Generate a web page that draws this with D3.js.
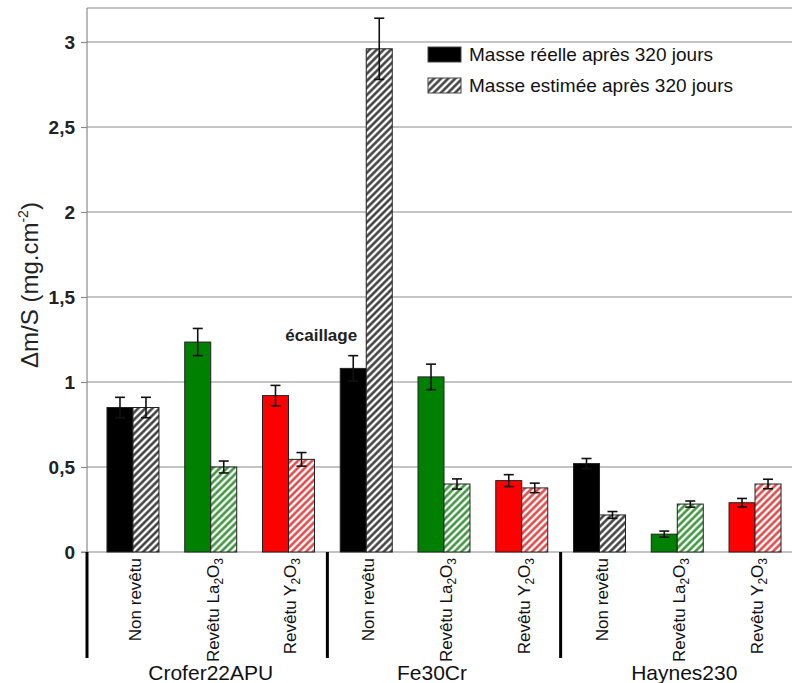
<!DOCTYPE html>
<html>
<head>
<meta charset="utf-8">
<script src="https://cdn.jsdelivr.net/npm/d3@7"></script>
<style>
  html, body { margin: 0; padding: 0; background: #fff; }
  svg { display: block; font-family: "Liberation Sans", Arial, Helvetica, sans-serif; }
</style>
</head>
<body>
<svg id="chart" width="792" height="683"></svg>
<script>
// ---------- data ----------
const alloys = ["Crofer22APU", "Fe30Cr", "Haynes230"];
const coatings = ["Non revêtu", "Revêtu La2O3", "Revêtu Y2O3"];
const seriesNames = ["Masse réelle après 320 jours", "Masse estimée après 320 jours"];
// order: alloy-major, coating-minor
const massReelle  = [0.85, 1.235, 0.92, 1.08, 1.03, 0.42, 0.52, 0.105, 0.29];
const errReelle   = [0.06, 0.08, 0.06, 0.075, 0.075, 0.035, 0.03, 0.018, 0.025];
const massEstimee = [0.85, 0.50, 0.545, 2.96, 0.40, 0.377, 0.218, 0.282, 0.40];
const errEstimee  = [0.06, 0.035, 0.04, 0.18, 0.03, 0.028, 0.02, 0.018, 0.028];
const yTicks = [0, 0.5, 1, 1.5, 2, 2.5, 3];
const yLabel = "Δm/S (mg.cm";
const annotation = "écaillage";

// ---------- styles / layout ----------
const solidColors = ["#000000", "#008000", "#ff0000"];
const hatchColors = ["#333333", "#2f8f2f", "#e23a3a"];
const groupLabelDx = [0, -12, 7];

const svg = d3.select("#chart");
const W = 792;
const axisX = 87, topY = 8, baseY = 552;

const cats = [];
alloys.forEach((a, i) => coatings.forEach((c, j) => cats.push({alloy: a, coating: c, ai: i, ci: j, key: a + "|" + c})));

const x = d3.scaleBand().domain(cats.map(d => d.key)).range([94.1, 793.9]).padding(0);
const bw = x.bandwidth();
const x1 = d3.scaleBand().domain(["reel", "estime"]).range([bw / 2 - 26, bw / 2 + 26]).padding(0);
const y = d3.scaleLinear().domain([0, 3.2]).range([baseY, topY]);

// patterns
const defs = svg.append("defs");
hatchColors.forEach((c, i) => {
  const p = defs.append("pattern").attr("id", "hatch" + i)
    .attr("patternUnits", "userSpaceOnUse").attr("width", 5).attr("height", 5)
    .attr("patternTransform", "rotate(45)");
  p.append("rect").attr("width", 5).attr("height", 5).attr("fill", "#fff");
  p.append("line").attr("x1", 1.5).attr("y1", 0).attr("x2", 1.5).attr("y2", 5)
    .attr("stroke", c).attr("stroke-width", 2.4);
});

// gridlines
const gridVals = yTicks.filter(v => v > 0);
svg.append("g").selectAll("line").data(gridVals).join("line")
  .attr("x1", axisX).attr("x2", W).attr("y1", d => y(d)).attr("y2", d => y(d))
  .attr("stroke", "#8a8a8a").attr("stroke-width", 1.2);
// top frame
svg.append("line").attr("x1", axisX).attr("x2", W).attr("y1", y(3.2)).attr("y2", y(3.2))
  .attr("stroke", "#8a8a8a").attr("stroke-width", 1.2);

// y axis
const yAxis = d3.axisLeft(y).tickValues(yTicks).tickSize(6).tickPadding(6)
  .tickFormat(d => String(d).replace(".", ","));
const gy = svg.append("g").attr("transform", `translate(${axisX},0)`).call(yAxis);
gy.select(".domain").attr("stroke", "#8a8a8a").attr("stroke-width", 1.2).attr("d", `M0,${baseY}V${topY}`);
gy.selectAll(".tick line").attr("stroke", "#8a8a8a").attr("stroke-width", 1.2);
gy.selectAll(".tick text").attr("font-size", 19).attr("font-weight", "bold").attr("fill", "#222")
  .attr("font-family", "Liberation Sans, Arial, sans-serif");

// x axis baseline
svg.append("line").attr("x1", axisX - 6).attr("x2", W).attr("y1", baseY).attr("y2", baseY)
  .attr("stroke", "#8a8a8a").attr("stroke-width", 1.2);

// bars
const barData = [];
cats.forEach((c, i) => {
  barData.push({cat: c, s: "reel", v: massReelle[i], e: errReelle[i]});
  barData.push({cat: c, s: "estime", v: massEstimee[i], e: errEstimee[i]});
});
const gb = svg.append("g");
gb.selectAll("rect").data(barData).join("rect")
  .attr("x", d => x(d.cat.key) + x1(d.s))
  .attr("y", d => y(d.v))
  .attr("width", x1.bandwidth())
  .attr("height", d => y(0) - y(d.v))
  .attr("fill", d => d.s === "reel" ? solidColors[d.cat.ci] : `url(#hatch${d.cat.ci})`)
  .attr("stroke", "#222").attr("stroke-width", 1);

// error bars
const ge = svg.append("g").attr("stroke", "#111").attr("stroke-width", 1.6);
barData.forEach(d => {
  const cx = x(d.cat.key) + x1(d.s) + x1.bandwidth() / 2;
  const y1v = y(d.v + d.e), y2v = y(d.v - d.e);
  ge.append("line").attr("x1", cx).attr("x2", cx).attr("y1", y1v).attr("y2", y2v);
  ge.append("line").attr("x1", cx - 5).attr("x2", cx + 5).attr("y1", y1v).attr("y2", y1v);
  ge.append("line").attr("x1", cx - 5).attr("x2", cx + 5).attr("y1", y2v).attr("y2", y2v);
});

// separators below axis
const sepX = [axisX, x(cats[3].key), x(cats[6].key)];
svg.append("g").selectAll("line").data(sepX).join("line")
  .attr("x1", d => d).attr("x2", d => d).attr("y1", baseY).attr("y2", 658)
  .attr("stroke", "#000").attr("stroke-width", 3);

// category labels (rotated, with subscripts)
const gl = svg.append("g");
cats.forEach(c => {
  const cx = x(c.key) + bw / 2 + 8;
  const t = gl.append("text").attr("transform", `translate(${cx},558) rotate(-90)`)
    .attr("text-anchor", "end").attr("font-size", 17).attr("fill", "#111");
  const parts = c.coating.split(/(\d)/).filter(s => s.length);
  let sub = false;
  parts.forEach(p => {
    const isDigit = /^\d$/.test(p);
    const ts = t.append("tspan").text(p);
    if (isDigit && !sub) { ts.attr("font-size", 12).attr("dy", 4); sub = true; }
    else if (!isDigit && sub) { ts.attr("dy", -4); sub = false; }
    else if (isDigit) { ts.attr("font-size", 12); }
  });
});

// group labels
svg.append("g").selectAll("text").data(alloys).join("text")
  .attr("x", (d, i) => x(cats[i * 3 + 1].key) + bw / 2 + groupLabelDx[i])
  .attr("y", 680).attr("text-anchor", "middle").attr("font-size", 21).attr("fill", "#111")
  .text(d => d);

// y label
const yl = svg.append("text").attr("transform", `translate(38,285) rotate(-90)`)
  .attr("text-anchor", "middle").attr("font-size", 24).attr("fill", "#222");
yl.append("tspan").text(yLabel);
yl.append("tspan").text("-2").attr("font-size", 14).attr("dy", -10);
yl.append("tspan").text(")").attr("dy", 10);

// annotation
const fe = cats[3];
svg.append("text").attr("x", x(fe.key) + x1("reel") - 19).attr("y", y(1.24))
  .attr("text-anchor", "middle").attr("font-size", 17).attr("font-weight", "bold").attr("fill", "#222")
  .text(annotation);

// legend
const lg = svg.append("g").attr("transform", "translate(428,47)");
seriesNames.forEach((n, i) => {
  lg.append("rect").attr("x", 0).attr("y", i * 31).attr("width", 33).attr("height", 15)
    .attr("fill", i === 0 ? solidColors[0] : "url(#hatch0)").attr("stroke", "#444").attr("stroke-width", 1);
  lg.append("text").attr("x", 41).attr("y", i * 31 + 14).attr("font-size", 19).attr("fill", "#111").text(n);
});
</script>
</body>
</html>
